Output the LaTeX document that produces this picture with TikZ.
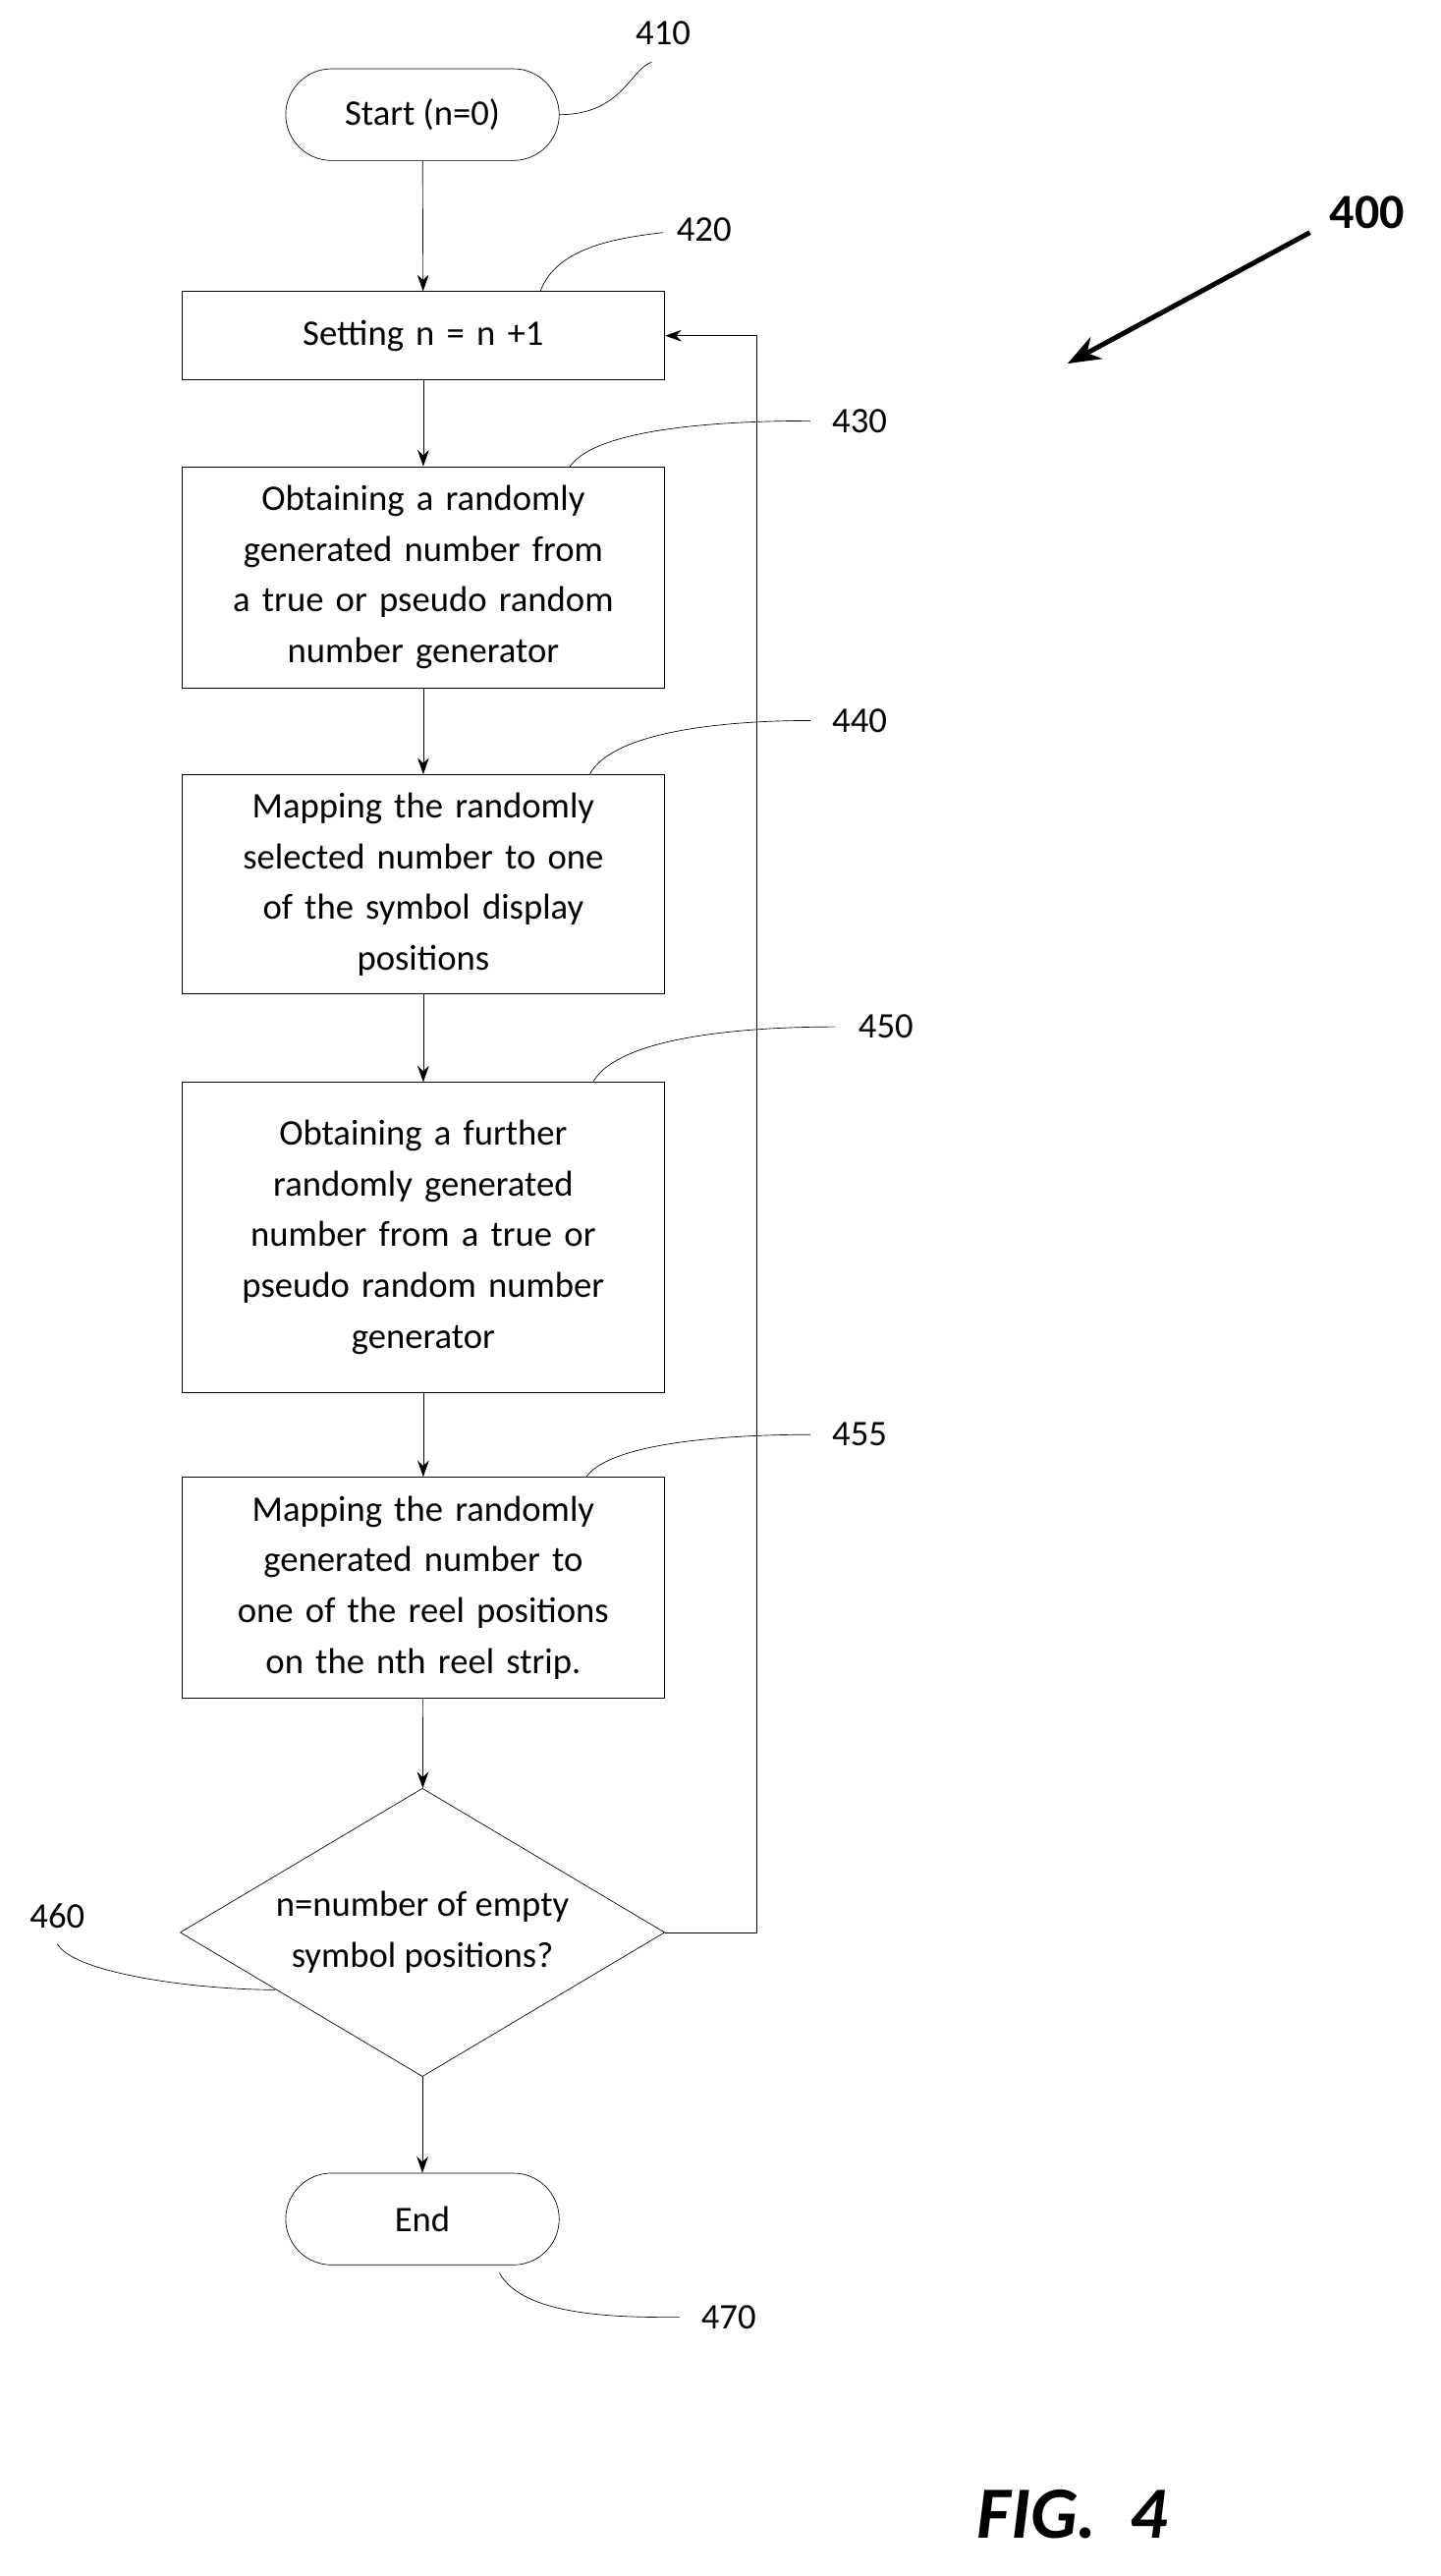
\documentclass[tikz,border=0pt]{standalone}
\usepackage{fontspec}
\setmainfont{Carlito}
\usetikzlibrary{shapes.geometric,arrows.meta}
\begin{document}
\begin{tikzpicture}[x=1pt,y=-1pt,
  txt/.style={font=\fontsize{22}{31}\selectfont,align=center},
  box/.style={draw,thin,txt,minimum width=295pt,text width=285pt,inner sep=0pt},
  term/.style={draw,thin,txt,rounded corners=28pt,minimum width=167pt,minimum height=56pt},
  lab/.style={font=\fontsize{22}{26}\selectfont},
  fl/.style={-{Stealth[length=10pt,width=7pt]},thin},
  lead/.style={thin}]
\useasboundingbox (0,0) rectangle (880,1573);
\node[term] (s) at (258,70) {Start (n=0)};
\node[box,minimum height=54pt] (b420) at (258.5,205) {Setting n = n +1};
\node[box,minimum height=135pt] (b430) at (258.5,352.5) {Obtaining a randomly\\generated number from\\a true or pseudo random\\number generator};
\node[box,minimum height=134pt] (b440) at (258.5,540) {Mapping the randomly\\selected number to one\\of the symbol display\\positions};
\node[box,minimum height=189pt] (b450) at (258.5,755.5) {Obtaining a further\\randomly generated\\number from a true or\\pseudo random number\\generator};
\node[box,minimum height=135pt] (b455) at (258.5,969.5) {Mapping the randomly\\generated number to\\one of the reel positions\\on the nth reel strip.};
\node[draw,thin,diamond,txt,minimum width=296pt,minimum height=176pt,aspect=1.68,inner sep=0pt] (d) at (258,1180) {n=number of empty\\symbol positions?};
\node[term] (e) at (258,1355) {End};
\draw[fl] (s) -- (b420);
\draw[fl] (b420) -- (b430);
\draw[fl] (b430) -- (b440);
\draw[fl] (b440) -- (b450);
\draw[fl] (b450) -- (b455);
\draw[fl] (b455) -- (d);
\draw[fl] (d) -- (e);
\coordinate (c1) at (462,1180);
\coordinate (c2) at (462,205);
\draw[fl] (d.east) -- (c1) -- (c2) -- (b420.east);
% labels
\node[lab] (l410) at (405,20) {410};
\node[lab] (l420) at (430,140) {420};
\node[lab] (l430) at (525,257) {430};
\node[lab] (l440) at (525,440) {440};
\node[lab] (l450) at (541,627) {450};
\node[lab] (l455) at (525,876) {455};
\node[lab] (l460) at (35,1170) {460};
\node[lab] (l470) at (445,1415) {470};
\draw[lead] (s.east) .. controls (380,70) and (385,42) .. (398,38);
\draw[lead] (330,178) .. controls (340,150) and (380,145) .. (405,142);
\draw[lead] (348,285) .. controls (365,260) and (450,257) .. (495,257);
\draw[lead] (360,473) .. controls (375,445) and (450,440) .. (495,440);
\draw[lead] (362,661) .. controls (378,632) and (460,627) .. (510,627);
\draw[lead] (358,902) .. controls (373,880) and (450,876) .. (495,876);
\draw[lead] (168,1215) .. controls (120,1215) and (45,1205) .. (35,1187);
\draw[lead] (305,1388) .. controls (320,1415) and (380,1415) .. (415,1415);
\node[font=\fontsize{30}{34}\selectfont\bfseries] (n400) at (835,130) {400};
\coordinate (a0) at (800,142);
\coordinate (a1) at (652,222);
\draw[line width=3pt,-{Stealth[length=20pt,width=15pt]}] (a0) -- (a1);
\node[font=\fontsize{45}{50}\selectfont\bfseries\itshape] (fig) at (655,1535) {FIG.\ \ 4};
\end{tikzpicture}
\end{document}
